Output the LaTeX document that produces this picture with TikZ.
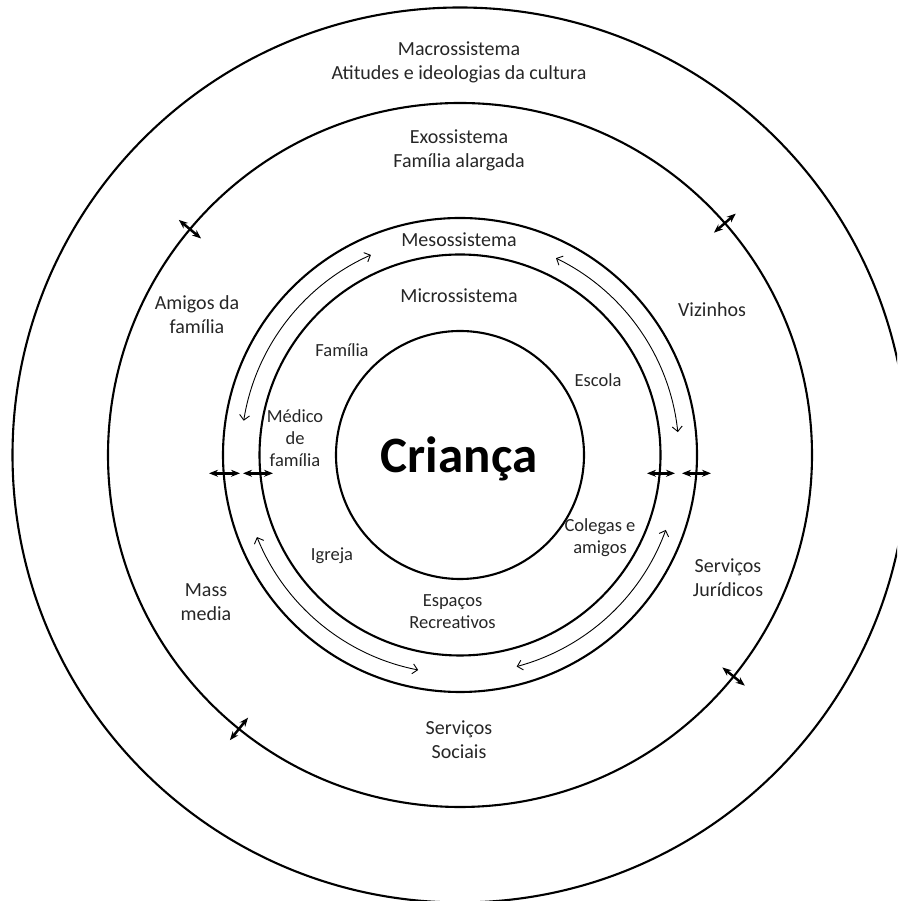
\documentclass[tikz,border=0pt]{standalone}
\usepackage{fontspec}
\setmainfont{Carlito}
\usetikzlibrary{arrows.meta}
\begin{document}
\begin{tikzpicture}[x=1pt,y=1pt,
  ring/.style={draw=black, line width=2.1pt},
  lbl/.style={font=\fontsize{20}{24}\selectfont, text=black!85, align=center, inner sep=0pt},
  slbl/.style={font=\fontsize{18.5}{22}\selectfont, text=black!85, align=center, inner sep=0pt},
  flow/.style={line width=0.9pt, {Straight Barb[length=5pt,width=10pt]}-{Straight Barb[length=5pt,width=10pt]}},
  link/.style={line width=2.5pt, {Stealth[length=9pt,width=7pt]}-{Stealth[length=9pt,width=7pt]}}]
\useasboundingbox (0,0) rectangle (897,901);
\clip (0,0) rectangle (897,901);
\coordinate (c) at (460,446);

% nested systems
\draw[ring] (c) circle[radius=447.5];
\draw[ring] (c) circle[radius=352];
\draw[ring] (c) circle[radius=237];
\draw[ring] (c) circle[radius=200.5];
\draw[ring] (c) circle[radius=124];

% labels
\node[lbl] (mac) at (459,839) {Macrossistema\\Atitudes e ideologias da cultura};
\node[lbl] (exo) at (459,751) {Exossistema\\Família alargada};
\node[lbl] (meso) at (459,661) {Mesossistema};
\node[lbl] (micro) at (459,605) {Microssistema};
\node[lbl] (amigos) at (197,586) {Amigos da\\família};
\node[lbl] (vizinhos) at (712,591) {Vizinhos};
\node[lbl] (mass) at (206,299) {Mass\\media};
\node[lbl] (servj) at (728,323) {Serviços\\Jurídicos};
\node[lbl] (servs) at (459,161) {Serviços\\Sociais};
\node[slbl] (familia) at (342,551) {Família};
\node[slbl] (escola) at (598,521) {Escola};
\node[slbl] (medico) at (295,463) {Médico\\de\\família};
\node[slbl] (colegas) at (600,363) {Colegas e\\amigos};
\node[slbl] (igreja) at (332,345) {Igreja};
\node[slbl] (espacos) at (452.5,289) {Espaços\\Recreativos};
\node[font=\fontsize{51}{60}\selectfont\bfseries, inner sep=0pt, anchor=base] (crianca) at (459,428.3) {Criança};

% interactions inside the mesosystem
\draw[flow] ([shift={(114:219)}]c) arc[start angle=114, end angle=171, radius=219];
\draw[flow] ([shift={(64:219)}]c) arc[start angle=64, end angle=6, radius=219];
\draw[flow] ([shift={(-20:219)}]c) arc[start angle=-20, end angle=-75, radius=219];
\draw[flow] ([shift={(-158:219)}]c) arc[start angle=-158, end angle=-101, radius=219];

% exchanges across the exosystem boundary
\draw[link] ([shift={(140.1:337.5)}]c) -- ([shift={(140.1:366.5)}]c);
\draw[link] ([shift={(41.2:337.5)}]c) -- ([shift={(41.2:366.5)}]c);
\draw[link] ([shift={(-128.9:337.5)}]c) -- ([shift={(-128.9:366.5)}]c);
\draw[link] ([shift={(-39:337.5)}]c) -- ([shift={(-39:366.5)}]c);

% exchanges across the meso and micro boundaries
\coordinate (l1a) at (209,427.7); \coordinate (l1b) at (240,427.7);
\coordinate (l2a) at (243,427.7); \coordinate (l2b) at (273,427.7);
\coordinate (r1a) at (647,427.7); \coordinate (r1b) at (675,427.7);
\coordinate (r2a) at (682,427.7); \coordinate (r2b) at (711,427.7);
\draw[link] (l1a) -- (l1b);
\draw[link] (l2a) -- (l2b);
\draw[link] (r1a) -- (r1b);
\draw[link] (r2a) -- (r2b);
\end{tikzpicture}
\end{document}
